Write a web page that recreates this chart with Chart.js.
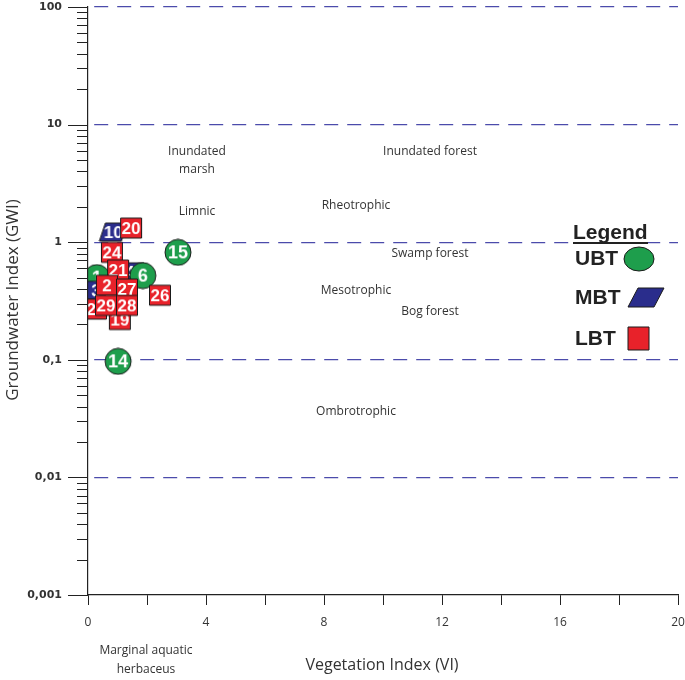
<!DOCTYPE html>
<html>
<head>
<meta charset="utf-8">
<script src="https://cdn.jsdelivr.net/npm/chart.js@4.4.0/dist/chart.umd.min.js"></script>
<style>
  html, body { margin: 0; padding: 0; background: #fff; }
</style>
</head>
<body>
<canvas id="gwi" width="685" height="680"></canvas>
<script>
// ─────────────────────────────────────────────────────────────
// DATA (listed in drawing order, bottom to top)
// ─────────────────────────────────────────────────────────────
const pointLabels = ['10', '20', '24', '15', '1', '3', '4', '6', '21', '2', '27', '26', '19', '22', '29', '28', '14'];
const pointGroups = ['MBT', 'LBT', 'LBT', 'UBT', 'UBT', 'MBT', 'MBT', 'UBT', 'LBT', 'LBT', 'LBT', 'LBT', 'LBT', 'LBT', 'LBT', 'LBT', 'UBT'];
const pointVI     = [0.86, 1.46, 0.81, 3.05, 0.30, 0.27, 1.42, 1.86, 1.02, 0.64, 1.32, 2.44, 1.08, 0.27, 0.61, 1.32, 1.02];
const pointGWI    = [1.22, 1.32, 0.82, 0.82, 0.50, 0.39, 0.56, 0.52, 0.58, 0.43, 0.40, 0.354, 0.22, 0.27, 0.29, 0.29, 0.097];

const legendGroups = ['UBT', 'MBT', 'LBT'];

const xTickLabels = ['0', '4', '8', '12', '16', '20'];
const yTickLabels = ['0,001', '0,01', '0,1', '1', '10', '100'];

const zoneNames = ['Inundated', 'marsh', 'Limnic', 'Inundated forest', 'Rheotrophic', 'Swamp forest',
                   'Mesotrophic', 'Bog forest', 'Ombrotrophic', 'Marginal aquatic', 'herbaceus'];

// ─────────────────────────────────────────────────────────────
// STYLE
// ─────────────────────────────────────────────────────────────
const COLORS = { UBT: '#1e9e4c', MBT: '#2a2d8c', LBT: '#e8222a' };
const TEXT = '#333333';
const GRID_BLUE = '#4b4bab';

// positions of zone captions (pixels)
const ZONE_POS = [
  [197, 152], [197, 170], [197, 212], [430, 152], [356, 206], [430, 254],
  [356, 291], [430, 312], [356, 412], [146, 651], [146, 670]
];

function drawShape(g, group, cx, cy) {
  g.fillStyle = COLORS[group];
  g.strokeStyle = '#1a1a1a';
  g.lineWidth = 1;
  g.beginPath();
  if (group === 'UBT') {
    g.arc(cx, cy, 13, 0, Math.PI * 2);
  } else if (group === 'MBT') {
    g.moveTo(cx - 8, cy - 9);
    g.lineTo(cx + 14, cy - 9);
    g.lineTo(cx + 8, cy + 9);
    g.lineTo(cx - 14, cy + 9);
    g.closePath();
  } else {
    g.rect(cx - 10.5, cy - 10, 21, 20);
  }
  g.fill();
  g.stroke();
}

function markerCanvas(group, label) {
  const cv = document.createElement('canvas');
  cv.width = 30;
  cv.height = 28;
  const g = cv.getContext('2d');
  drawShape(g, group, 15, 14);
  g.fillStyle = '#fff';
  g.font = `bold ${group === 'UBT' ? 18 : 17}px "Liberation Sans", Arial, sans-serif`;
  g.textAlign = 'center';
  g.textBaseline = 'middle';
  g.fillText(label, 15, 15);
  return cv;
}

const markers = pointLabels.map((l, i) => markerCanvas(pointGroups[i], l));

// ─────────────────────────────────────────────────────────────
// PLUGIN: minor ticks, captions, legend, axis titles
// ─────────────────────────────────────────────────────────────
const decorations = {
  id: 'decorations',
  beforeDatasetsDraw(chart) {
    const ctx = chart.ctx;
    const y = chart.scales.y;
    ctx.save();
    ctx.strokeStyle = '#222';
    ctx.lineWidth = 1;
    y.ticks.forEach(t => {
      const p = Math.round(y.getPixelForValue(t.value)) + 0.5;
      ctx.beginPath();
      ctx.moveTo(y.right - (isDecade(t.value) ? 20 : 11), p);
      ctx.lineTo(y.right, p);
      ctx.stroke();
    });
    ctx.restore();
  },
  afterDraw(chart) {
    const ctx = chart.ctx;
    ctx.save();
    ctx.fillStyle = TEXT;
    ctx.textAlign = 'center';
    ctx.textBaseline = 'middle';

    ctx.font = '12px "Open Sans", sans-serif';
    zoneNames.forEach((n, i) => ctx.fillText(n, ZONE_POS[i][0], ZONE_POS[i][1]));

    // axis titles
    ctx.font = '16px "Open Sans", sans-serif';
    ctx.fillText('Vegetation Index (VI)', 382, 665);
    ctx.save();
    ctx.translate(13, 300);
    ctx.rotate(-Math.PI / 2);
    ctx.font = '17px "Open Sans", sans-serif';
    ctx.fillText('Groundwater Index (GWI)', 0, 0);
    ctx.restore();

    // legend
    ctx.fillStyle = '#222';
    ctx.textAlign = 'left';
    ctx.font = 'bold 21px "Liberation Sans", Arial, sans-serif';
    ctx.fillText('Legend', 573, 233);
    ctx.fillRect(573, 242, 75, 2);
    const rows = [259, 298, 339];
    legendGroups.forEach((gname, i) => {
      ctx.fillStyle = '#222';
      ctx.fillText(gname, 575, rows[i]);
      ctx.fillStyle = COLORS[gname];
      ctx.strokeStyle = '#1a1a1a';
      ctx.lineWidth = 1;
      ctx.beginPath();
      if (gname === 'UBT') {
        ctx.ellipse(639, rows[i], 15, 12, 0, 0, Math.PI * 2);
      } else if (gname === 'MBT') {
        ctx.moveTo(638, rows[i] - 10);
        ctx.lineTo(664, rows[i] - 10);
        ctx.lineTo(654, rows[i] + 9);
        ctx.lineTo(628, rows[i] + 9);
        ctx.closePath();
      } else {
        ctx.rect(628, rows[i] - 12, 21, 23);
      }
      ctx.fill();
      ctx.stroke();
    });
    ctx.restore();
  }
};

// ─────────────────────────────────────────────────────────────
// CHART
// ─────────────────────────────────────────────────────────────
function isDecade(v) {
  const lg = Math.log10(v);
  return Math.abs(lg - Math.round(lg)) < 1e-6;
}

new Chart(document.getElementById('gwi'), {
  type: 'scatter',
  data: {
    datasets: [{
      data: pointVI.map((x, i) => ({ x, y: pointGWI[i] })),
      pointStyle: ctx => markers[ctx.dataIndex],
      pointRadius: 13,
      clip: { left: 0, top: false, right: false, bottom: false },
    }]
  },
  options: {
    responsive: false,
    animation: false,
    events: [],
    layout: { autoPadding: false, padding: { top: 7, right: 7, left: 0, bottom: 0 } },
    plugins: { legend: { display: false }, tooltip: { enabled: false } },
    scales: {
      x: {
        type: 'linear',
        min: 0,
        max: 20,
        afterFit: s => {
          s.height = 85;
          s.paddingLeft = 0;
          s.paddingRight = 0;
        },
        ticks: {
          stepSize: 2,
          autoSkip: false,
          maxRotation: 0,
          padding: 10,
          color: TEXT,
          font: { size: 12, family: '"Open Sans", sans-serif' },
          callback: v => (v % 4 === 0 ? xTickLabels[v / 4] : ''),
        },
        grid: { drawOnChartArea: false, drawTicks: true, tickLength: 10, color: '#222', lineWidth: 1 },
        border: { color: '#222', width: 1.2, z: 1 },
      },
      y: {
        type: 'logarithmic',
        min: 0.001,
        max: 100,
        afterFit: s => {
          s.width = 88;
          s.paddingTop = 0;
          s.paddingBottom = 0;
        },
        afterBuildTicks: s => {
          const t = [];
          for (let e = -3; e < 2; e++) {
            for (let m = 1; m < 10; m++) t.push({ value: m * Math.pow(10, e) });
          }
          t.push({ value: 100 });
          s.ticks = t;
        },
        ticks: {
          autoSkip: false,
          padding: 26,
          color: TEXT,
          font: { size: 11, weight: 'bold', family: '"DejaVu Sans", sans-serif' },
          callback: v => (isDecade(v) ? yTickLabels[Math.round(Math.log10(v)) + 3] : ''),
        },
        grid: {
          drawTicks: false,
          lineWidth: 1.2,
          color: c => (c.tick && isDecade(c.tick.value) && c.tick.value > 0.0015 ? GRID_BLUE : 'rgba(0,0,0,0)'),
        },
        border: { color: '#222', width: 1.2, dash: [14, 9], dashOffset: -6, z: 1 },
      }
    }
  },
  plugins: [decorations]
});
</script>
</body>
</html>
